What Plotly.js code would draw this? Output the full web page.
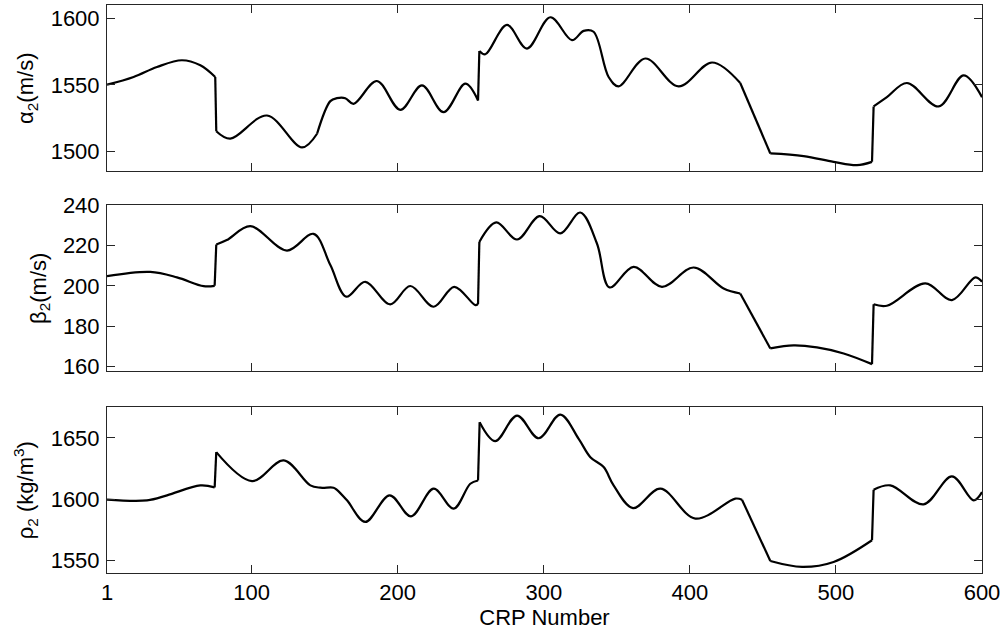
<!DOCTYPE html>
<html><head><meta charset="utf-8">
<script src="https://cdn.plot.ly/plotly-3.0.1.min.js"></script>
<style>html,body{margin:0;padding:0;background:#fff}#chart{width:1002px;height:631px}</style>
</head><body><div id="chart"></div>
<script>
var alphaX = [1, 19.2, 35.2, 52.3, 64.9, 75.1, 75.8, 85.4, 110.5, 134.5, 144.8, 153.9, 158.4, 164.1, 169.8, 185.8, 201.8, 216.6, 231.4, 246.3, 255, 255.9, 260, 274.8, 288.5, 304.5, 319.3, 327.3, 334.1, 344.4, 351.2, 369.5, 392.3, 415.2, 434.5, 455.1, 477.9, 498.4, 514.4, 524.7, 525.8, 534.9, 548.6, 570.3, 587.4, 600];
var alphaY = [1550.1, 1555.9, 1563.4, 1568.5, 1564.7, 1555.9, 1515.2, 1509.6, 1527, 1503, 1513.3, 1537.8, 1540, 1540, 1535.8, 1552.9, 1531.3, 1549.6, 1529.5, 1550.9, 1538.3, 1575.5, 1573, 1595, 1577.3, 1600.8, 1583.6, 1590.6, 1589.9, 1555.9, 1548.9, 1569.8, 1548.9, 1566.8, 1551.4, 1498.5, 1496.5, 1492.2, 1489.7, 1492.2, 1533.8, 1540.8, 1551.4, 1533.8, 1557.2, 1540.8];
var alphaCorners = [5, 6, 10, 20, 21, 34, 35, 39, 40];

var betaX = [1, 30.6, 48.9, 67.2, 74.7, 75.8, 83, 99.1, 124.2, 142.4, 153.9, 164.8, 177.8, 194.9, 208.6, 224.6, 238.7, 253.1, 255, 255.9, 267.5, 281.7, 297.2, 311.3, 325, 336.4, 345, 361.5, 380.9, 402.6, 423.1, 434.5, 455.1, 471, 487, 505.3, 524.7, 525.8, 534.9, 561.2, 579.4, 595.4, 600];
var betaY = [204.8, 206.9, 204.2, 199.8, 200, 220.5, 222.7, 229.6, 217.5, 225.8, 210.3, 194.6, 202, 190.8, 199.9, 189.6, 199.5, 190.4, 191, 221.8, 231.5, 223, 234.6, 226, 236.4, 221, 199.2, 209.4, 199.5, 209.1, 198.7, 196.2, 168.9, 170.4, 169.4, 166.4, 161.1, 190.8, 190.1, 201.2, 192.9, 204.2, 202];
var betaCorners = [4, 5, 18, 19, 31, 32, 36, 37];

var rhoX = [1, 28.4, 42.1, 64.9, 74.7, 75.8, 100.3, 121.9, 140.2, 147, 156.1, 158.4, 165.3, 177.8, 194.5, 209.1, 224.6, 238.3, 249.7, 255, 256.1, 266.8, 281.7, 296.5, 311.3, 323.9, 331.9, 341, 347.8, 361.1, 379.8, 403.8, 431.1, 435.7, 455.1, 476.8, 498.4, 524.7, 525.8, 537.2, 560, 579.4, 594.3, 600];
var rhoY = [1599.8, 1599.2, 1603.3, 1611.4, 1609.8, 1638.5, 1614.9, 1631.7, 1611.4, 1609.5, 1609.5, 1607.8, 1599.2, 1581.6, 1603.3, 1586.2, 1608.7, 1592.4, 1612.7, 1615.4, 1662.8, 1647.4, 1668.3, 1649.8, 1669.1, 1649.3, 1634.4, 1626.3, 1611.4, 1592.9, 1608.7, 1584.3, 1600.6, 1599.7, 1549.8, 1545, 1549, 1566.7, 1607.9, 1611.4, 1595.9, 1618.7, 1599.2, 1605.9];
var rhoCorners = [4, 5, 19, 20, 33, 34, 37, 38];

var xTicks = [1, 100, 200, 300, 400, 500, 600];
var alphaTicks = [1500, 1550, 1600];
var betaTicks = [160, 180, 200, 220, 240];
var rhoTicks = [1550, 1600, 1650];

var FONT = "Liberation Sans, Arial, sans-serif";
var FS = 22;

// split each series at its corner points; each run is drawn as a smooth spline,
// runs of two points (jumps, ramps) come out straight
function seriesTraces(xs, ys, corners, xaxis, yaxis) {
  var cuts = [0].concat(corners, [xs.length - 1]);
  var out = [];
  for (var i = 0; i < cuts.length - 1; i++) {
    var a = cuts[i], b = cuts[i + 1];
    if (b <= a) continue;
    out.push({x: xs.slice(a, b + 1), y: ys.slice(a, b + 1), xaxis: xaxis, yaxis: yaxis,
      mode: 'lines', hoverinfo: 'skip',
      line: {color: '#000', width: 2.2, shape: (b - a > 1 ? 'spline' : 'linear'), smoothing: 1}});
  }
  return out;
}

var traces = [].concat(
  seriesTraces(alphaX, alphaY, alphaCorners, 'x', 'y'),
  seriesTraces(betaX, betaY, betaCorners, 'x2', 'y2'),
  seriesTraces(rhoX, rhoY, rhoCorners, 'x3', 'y3')
);

function xa(anchor, showLabels, title) {
  var a = {anchor: anchor, range: [1, 600], tickvals: xTicks, ticktext: xTicks.map(String),
    showticklabels: showLabels, ticks: 'inside', ticklen: 8, tickcolor: '#262626', tickwidth: 1,
    showline: true, linecolor: '#262626', linewidth: 1, mirror: 'ticks', showgrid: false, zeroline: false,
    tickfont: {family: FONT, size: FS, color: '#000'}};
  if (title) a.title = {text: title, font: {family: FONT, size: FS, color: '#000'}, standoff: 4};
  return a;
}
function ya(anchor, domain, range, ticks, title) {
  return {anchor: anchor, domain: domain, range: range, tickvals: ticks, ticktext: ticks.map(String),
    ticks: 'inside', ticklen: 8, tickcolor: '#262626', tickwidth: 1, ticklabelstandoff: 2,
    showline: true, linecolor: '#262626', linewidth: 1, mirror: 'ticks', showgrid: false, zeroline: false,
    tickfont: {family: FONT, size: FS, color: '#000'},
    title: {text: title, font: {family: FONT, size: FS, color: '#000'}, standoff: 10}};
}

var layout = {
  width: 1002, height: 631, showlegend: false,
  paper_bgcolor: '#fff', plot_bgcolor: '#fff',
  margin: {l: 107, r: 20, t: 5, b: 58},
  xaxis: xa('y', false),
  xaxis2: xa('y2', false),
  xaxis3: xa('y3', true, 'CRP Number'),
  yaxis: ya('x', [0.707, 1], [1485, 1610], alphaTicks, 'α<sub>2</sub>(m/s)'),
  yaxis2: ya('x2', [0.355, 0.6474], [157.5, 240], betaTicks, 'β<sub>2</sub>(m/s)'),
  yaxis3: ya('x3', [0, 0.2917], [1540, 1675], rhoTicks, 'ρ<sub>2</sub> (kg/m<sup>3</sup>)')
};

Plotly.newPlot('chart', traces, layout, {staticPlot: true, displayModeBar: false});
</script></body></html>
